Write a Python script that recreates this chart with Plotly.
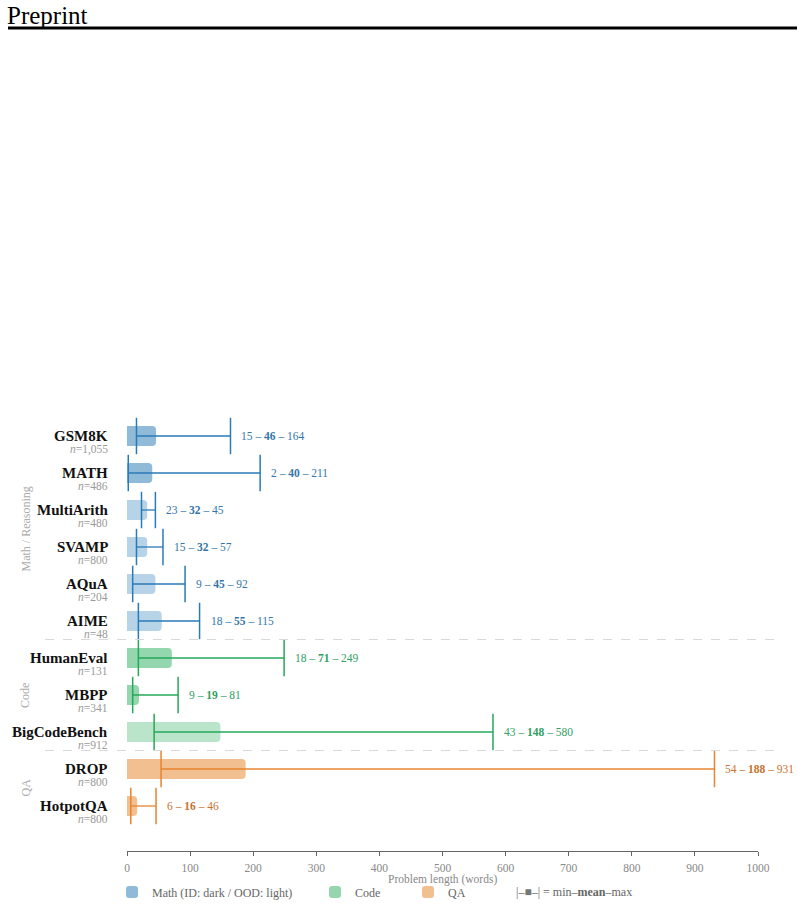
import plotly.graph_objects as go

# ---------------- data ----------------
datasets = ["GSM8K", "MATH", "MultiArith", "SVAMP", "AQuA", "AIME",
            "HumanEval", "MBPP", "BigCodeBench", "DROP", "HotpotQA"]
n_counts = ["1,055", "486", "480", "800", "204", "48", "131", "341", "912", "800", "800"]
min_len = [15, 2, 23, 15, 9, 18, 18, 9, 43, 54, 6]
mean_len = [46, 40, 32, 32, 45, 55, 71, 19, 148, 188, 16]
max_len = [164, 211, 45, 57, 92, 115, 249, 81, 580, 931, 46]
groups = ["Math"] * 6 + ["Code"] * 3 + ["QA"] * 2
split = ["ID", "ID", "OOD", "OOD", "OOD", "OOD", "ID", "ID", "OOD", "ID", "ID"]
x_ticks = [0, 100, 200, 300, 400, 500, 600, 700, 800, 900, 1000]

group_names = ["Math", "Code", "QA"]
group_labels = {"Math": "Math / Reasoning", "Code": "Code", "QA": "QA"}
legend_names = {"Math": "Math (ID: dark / OOD: light)", "Code": "Code", "QA": "QA"}
base_rgb = {"Math": (31, 119, 180), "Code": (41, 173, 93), "QA": (229, 127, 33)}
line_col = {"Math": "#2a7ab8", "Code": "#25a85a", "QA": "#e6842f"}
text_col = {"Math": "#3576aa", "Code": "#32a063", "QA": "#c8732e"}
alpha = {"ID": 0.5, "OOD": 0.32}

SERIF = "Liberation Serif"
ypos = list(range(len(datasets)))

W, H = 804, 904
L, R, T, B = 127, 46, 410, 53
plot_w = W - L - R
plot_h = H - T - B
row0_px, row_step = 436, 37
y_top = (T - row0_px) / row_step
y_bot = (H - B - row0_px) / row_step


def px_x(px):
    return (px - L) / plot_w


def px_y(py):
    return (H - B - py) / plot_h


legend_ids = {"Math": "legend", "Code": "legend2", "QA": "legend3"}
legend_px = {"Math": 112, "Code": 315, "QA": 408}
LEGEND_Y = 892

fig = go.Figure()

# bars (0 -> mean)
for g in group_names:
    idx = [i for i in ypos if groups[i] == g]
    r, gg, b = base_rgb[g]
    cols = [f"rgba({r},{gg},{b},{alpha[split[i]]})" for i in idx]
    fig.add_trace(go.Bar(
        x=[mean_len[i] for i in idx], y=idx, orientation="h",
        width=0.54, marker=dict(color=cols, line=dict(width=0), cornerradius=4),
        name=legend_names[g], showlegend=True, legend=legend_ids[g], hoverinfo="skip"))

# whiskers min -> max and end ticks
for g in group_names:
    idx = [i for i in ypos if groups[i] == g]
    xs, ys = [], []
    for i in idx:
        xs += [min_len[i], max_len[i], None]
        ys += [i, i, None]
    fig.add_trace(go.Scatter(x=xs, y=ys, mode="lines",
                             line=dict(color=line_col[g], width=1.3),
                             showlegend=False, hoverinfo="skip"))
    tx, ty = [], []
    for i in idx:
        tx += [min_len[i], max_len[i]]
        ty += [i, i]
    fig.add_trace(go.Scatter(x=tx, y=ty, mode="markers",
                             marker=dict(symbol="line-ns", size=26,
                                         line=dict(color=line_col[g], width=1.5)),
                             showlegend=False, hoverinfo="skip"))

annotations = []
for i in ypos:
    annotations.append(dict(
        x=px_x(110), xref="paper", y=i, yref="y", xanchor="right", yanchor="middle",
        yshift=0.5, text=f"<b>{datasets[i]}</b>", showarrow=False,
        font=dict(family=SERIF, size=15, color="#111111")))
    annotations.append(dict(
        x=px_x(110), xref="paper", y=i, yref="y", xanchor="right", yanchor="middle",
        yshift=-13, text=f"<i>n</i>={n_counts[i]}", showarrow=False,
        font=dict(family=SERIF, size=11.5, color="#9a9a9a")))
    annotations.append(dict(
        x=max_len[i], xref="x", y=i, yref="y", xanchor="left", yanchor="middle",
        xshift=9, text=f"{min_len[i]} – <b>{mean_len[i]}</b> – {max_len[i]}",
        showarrow=False, font=dict(family=SERIF, size=11.5, color=text_col[groups[i]])))

for g in group_names:
    idx = [i for i in ypos if groups[i] == g]
    annotations.append(dict(
        x=px_x(25), xref="paper", y=(idx[0] + idx[-1]) / 2, yref="y",
        xanchor="center", yanchor="middle", textangle=-90,
        text=group_labels[g], showarrow=False,
        font=dict(family=SERIF, size=12, color="#aaaaaa")))

# axis title (placed explicitly below tick labels)
annotations.append(dict(
    x=0.5, xref="paper", y=px_y(879), yref="paper", xanchor="center", yanchor="middle",
    text="Problem length (words)", showarrow=False,
    font=dict(family=SERIF, size=11.5, color="#888888")))

# header
annotations.append(dict(
    x=px_x(5), xref="paper", y=px_y(15), yref="paper", xanchor="left", yanchor="middle",
    text="Preprint", showarrow=False, font=dict(family=SERIF, size=25, color="#000000")))

# legend key for whiskers
annotations.append(dict(
    x=px_x(514), xref="paper", y=px_y(LEGEND_Y), yref="paper", xanchor="left", yanchor="middle",
    text="|–<span style='color:#777777'>■</span>–| = min–<b>mean</b>–max", showarrow=False,
    font=dict(family=SERIF, size=12, color="#666666")))

shapes = [dict(type="line", xref="paper", yref="paper",
               x0=px_x(8), x1=px_x(797), y0=px_y(28), y1=px_y(28),
               line=dict(color="#000000", width=3))]
for k in range(len(ypos) - 1):
    if groups[k] != groups[k + 1]:
        shapes.append(dict(type="line", xref="paper", yref="y",
                           x0=px_x(45), x1=px_x(783), y0=k + 0.5, y1=k + 0.5,
                           line=dict(color="#d8d8d8", width=1, dash="dash")))


def legend_cfg(px):
    return dict(orientation="h", xref="container", yref="container",
                x=px / W, xanchor="left", y=(H - LEGEND_Y) / H, yanchor="middle",
                font=dict(family=SERIF, size=12, color="#666666"),
                bgcolor="rgba(0,0,0,0)", itemclick=False, tracegroupgap=0)


fig.update_layout(
    width=W, height=H,
    margin=dict(l=L, r=R, t=T, b=B, pad=0, autoexpand=False),
    paper_bgcolor="white", plot_bgcolor="white",
    barmode="overlay",
    font=dict(family=SERIF, size=11, color="#777777"),
    xaxis=dict(range=[0, 1000], tickvals=x_ticks, showgrid=False, zeroline=False,
               showline=True, linecolor="#666666", linewidth=1,
               ticks="outside", ticklen=4, tickcolor="#666666",
               ticklabelstandoff=2,
               tickfont=dict(family=SERIF, size=11.5, color="#888888")),
    yaxis=dict(range=[y_bot, y_top], showgrid=False, zeroline=False,
               showticklabels=False, showline=False, ticks=""),
    legend=legend_cfg(legend_px["Math"]),
    legend2=legend_cfg(legend_px["Code"]),
    legend3=legend_cfg(legend_px["QA"]),
    annotations=annotations, shapes=shapes,
)

fig.write_html("out.html")
